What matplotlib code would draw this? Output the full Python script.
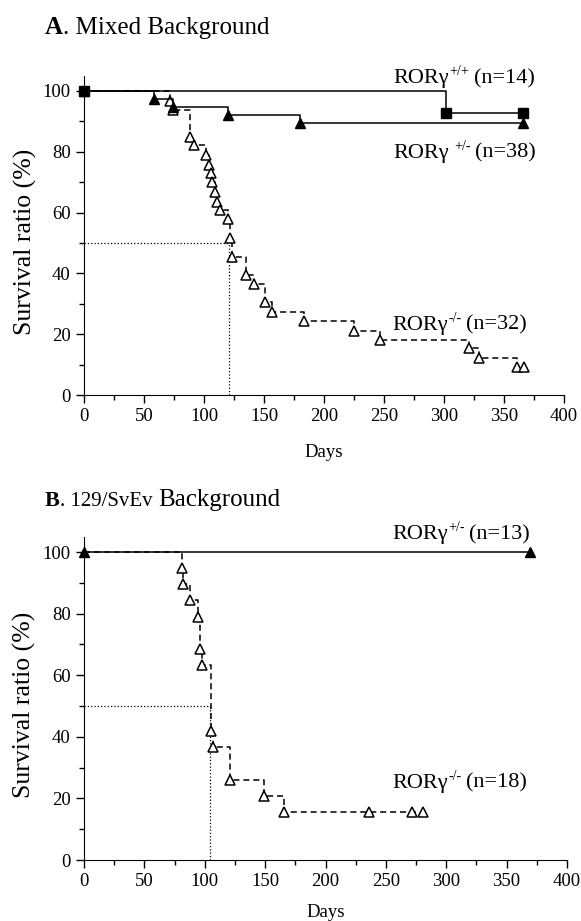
import matplotlib
matplotlib.use("Agg")
import matplotlib.pyplot as plt
from matplotlib.ticker import MultipleLocator
from matplotlib.transforms import IdentityTransform

plt.rcParams["font.family"] = ["Liberation Serif", "DejaVu Serif"]

# panel A: mixed background
a_ko_days = [0, 72, 74, 88, 92, 102, 104, 105.5, 107, 109, 110.5, 113, 120, 121.5,
             123.5, 135, 141.5, 151, 157, 183, 225, 247, 321, 329, 361, 367]
a_ko_surv = [100, 96.8, 93.7, 84.9, 82.2, 78.9, 75.6, 73.0, 70.0, 66.8, 63.5, 60.9, 57.9,
             51.6, 45.4, 39.5, 36.5, 30.6, 27.3, 24.3, 21.1, 18.0, 15.5, 12.2, 9.2, 9.2]
a_het_days = [0, 58, 74, 120, 180, 366]
a_het_surv = [100, 97.4, 94.7, 92.1, 89.5, 89.5]
a_wt_days = [0, 302, 366]
a_wt_surv = [100, 92.9, 92.9]
a_median = 121

# panel B: 129/SvEv background
b_ko_days = [0, 81, 82, 88, 94, 96, 97.5, 105, 106.5, 121, 149, 165.5, 236, 272, 281]
b_ko_surv = [100, 94.7, 89.6, 84.5, 79.0, 68.4, 63.2, 41.8, 36.6, 26.0, 20.8, 15.7,
             15.7, 15.7, 15.7]
b_het_days = [0, 369]
b_het_surv = [100, 100]
b_median = 104

fig = plt.figure(figsize=(5.81, 9.21), dpi=100)
ax_a = fig.add_axes([0.1446, 0.5711, 0.8262, 0.3466])
ax_b = fig.add_axes([0.1446, 0.0662, 0.8313, 0.3511])

dash = (0, (4, 2.5))


def style_axes(ax, label_y):
    ax.set_xlim(0, 400)
    ax.set_ylim(0, 105)
    ax.spines["top"].set_visible(False)
    ax.spines["right"].set_visible(False)
    ax.xaxis.set_major_locator(MultipleLocator(50))
    ax.xaxis.set_minor_locator(MultipleLocator(25))
    ax.set_yticks([0, 20, 40, 60, 80, 100])
    ax.yaxis.set_minor_locator(MultipleLocator(10))
    ax.tick_params(which="major", direction="out", length=6, width=1, labelsize=13.5)
    ax.tick_params(which="minor", direction="out", length=3.5, width=1)
    ax.set_xlabel("Days", fontsize=13.5)
    ax.xaxis.set_label_coords(0.5, label_y)
    ax.xaxis.label.set_va("center")
    ax.set_ylabel("Survival ratio (%)", fontsize=18.5)
    ax.yaxis.set_label_coords(-0.123, 0.48)
    ax.yaxis.label.set_va("center")


def draw_ko(ax, days, surv, median):
    ax.plot([0, median], [50, 50], color="k", ls=":", lw=0.9)
    ax.plot([median, median], [0, 50], color="k", ls=":", lw=0.9)
    ax.step(days, surv, where="post", color="k", ls=dash, lw=1.1)
    ax.plot(days[1:], surv[1:], ls="none", marker="^", ms=7, mfc="white",
            mec="k", mew=1.1, clip_on=False)


def draw_solid(ax, days, surv, marker, ms):
    ax.step(days, surv, where="post", color="k", lw=1.1)
    ax.plot(days, surv, ls="none", marker=marker, ms=ms, color="k", clip_on=False)


# A
draw_ko(ax_a, a_ko_days, a_ko_surv, a_median)
draw_solid(ax_a, a_het_days, a_het_surv, "^", 6.5)
draw_solid(ax_a, a_wt_days, a_wt_surv, "s", 6.5)
style_axes(ax_a, -0.179)

# B
draw_ko(ax_b, b_ko_days, b_ko_surv, b_median)
draw_solid(ax_b, b_het_days, b_het_surv, "^", 6.5)
style_axes(ax_b, -0.161)

renderer = fig.canvas.get_renderer()


def chain(x, y, pieces):
    # pieces: (text, size, weight, raise_px, gap_px)
    for s, size, weight, dy, gap in pieces:
        x += gap
        t = fig.text(x, y + dy, s, fontsize=size, weight=weight, ha="left",
                     va="baseline", transform=IdentityTransform())
        x = t.get_window_extent(renderer).x1


def label(ax, x, y, sup, rest, gap=0):
    px, py = ax.transData.transform((x, y))
    chain(px, py, [("ROR\u03b3", 16, "normal", 0, 0),
                   (sup, 10, "normal", 8, gap + 1),
                   (rest, 16, "normal", 0, 4)])


label(ax_a, 257.5, 102.6, "+/+", "(n=14)")
label(ax_a, 257.5, 78.1, "+/-", "(n=38)", gap=5)
label(ax_a, 256.7, 21.5, "-/-", "(n=32)")
label(ax_b, 255, 104.1, "+/-", "(n=13)")
label(ax_b, 255, 23.5, "-/-", "(n=18)")

H = 921
chain(45, H - 34, [("A", 18, "bold", 0, 0), (". Mixed Background", 18, "normal", 0, 0)])
chain(45, H - 506, [("B", 16, "bold", 0, 0), (". 129/SvEv", 15, "normal", 0, 0),
                    ("Background", 18, "normal", 0, 6)])

fig.savefig("out.png", dpi=100)
